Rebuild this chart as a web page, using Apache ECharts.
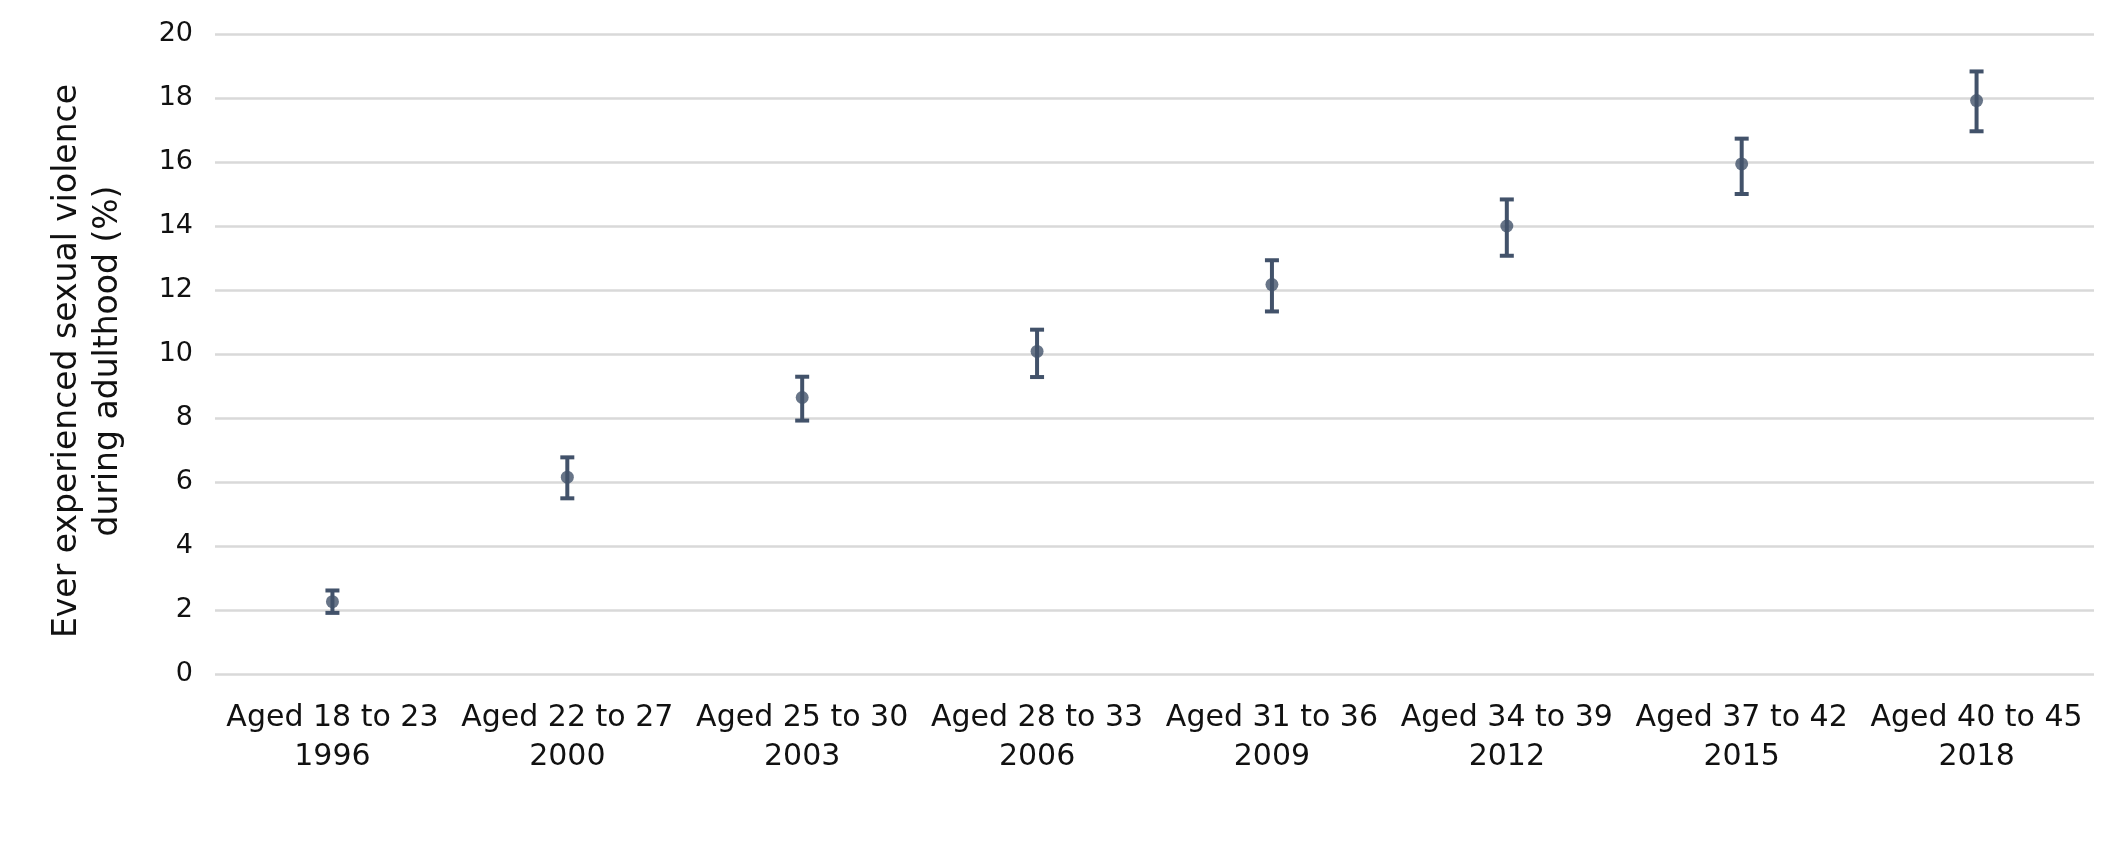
<!DOCTYPE html>
<html>
<head>
<meta charset="utf-8">
<script src="https://cdn.jsdelivr.net/npm/echarts@6/dist/echarts.min.js"></script>
<style>
    html, body { margin: 0; padding: 0; background: #fff; }
    #chart { width: 2126px; height: 849px; }
</style>
</head>
<body>
<div id="chart"></div>
<script>
// survey waves (age band + year)
var categories = [
    'Aged 18 to 23\n1996', 'Aged 22 to 27\n2000', 'Aged 25 to 30\n2003', 'Aged 28 to 33\n2006',
    'Aged 31 to 36\n2009', 'Aged 34 to 39\n2012', 'Aged 37 to 42\n2015', 'Aged 40 to 45\n2018'
];
var estimate = [2.26, 6.15, 8.64, 10.08, 12.17, 14.0, 15.94, 17.92];
var lower    = [1.91, 5.49, 7.92, 9.28, 11.33, 13.07, 15.0, 16.96];
var upper    = [2.61, 6.77, 9.29, 10.76, 12.93, 14.83, 16.73, 18.83];
var yTicks   = [0, 2, 4, 6, 8, 10, 12, 14, 16, 18, 20];

var markColor = '#42526a';
var fontName = 'DejaVu Sans';

var errorData = categories.map(function (c, i) {
    return [i, lower[i], upper[i]];
});

function renderErrorBar(params, api) {
    var lo = api.coord([api.value(0), api.value(1)]);
    var hi = api.coord([api.value(0), api.value(2)]);
    var half = 7;
    var style = { stroke: markColor, lineWidth: 4, fill: null };
    return {
        type: 'group',
        children: [
            { type: 'line', shape: { x1: hi[0], y1: hi[1], x2: lo[0], y2: lo[1] }, style: style },
            { type: 'line', shape: { x1: hi[0] - half, y1: hi[1], x2: hi[0] + half, y2: hi[1] }, style: style },
            { type: 'line', shape: { x1: lo[0] - half, y1: lo[1], x2: lo[0] + half, y2: lo[1] }, style: style }
        ]
    };
}

var chart = echarts.init(document.getElementById('chart'));
var option = {
    animation: false,
    backgroundColor: '#fff',
    grid: { left: 215, right: 32, top: 34, bottom: 175, containLabel: false },
    xAxis: {
        type: 'category',
        data: categories,
        boundaryGap: true,
        axisLine: { show: false },
        axisTick: { show: false },
        axisLabel: {
            interval: 0,
            margin: 25,
            color: '#111',
            fontFamily: fontName,
            fontSize: 30,
            lineHeight: 39
        }
    },
    yAxis: {
        type: 'value',
        min: yTicks[0],
        max: yTicks[yTicks.length - 1],
        interval: 2,
        name: 'Ever experienced sexual violence\nduring adulthood (%)',
        nameLocation: 'middle',
        nameGap: 86,
        nameTextStyle: {
            color: '#111',
            fontFamily: fontName,
            fontSize: 33,
            lineHeight: 41,
            padding: [0, 14, 0, 0]
        },
        axisLine: { show: false },
        axisTick: { show: false },
        axisLabel: {
            margin: 22,
            color: '#111',
            fontFamily: fontName,
            fontSize: 27
        },
        splitLine: { lineStyle: { color: '#d9d9d9', width: 2.5 } }
    },
    series: [
        {
            type: 'custom',
            renderItem: renderErrorBar,
            data: errorData,
            encode: { x: 0, y: [1, 2] },
            z: 2
        },
        {
            type: 'scatter',
            data: estimate,
            symbol: 'circle',
            symbolSize: 13,
            itemStyle: { color: markColor },
            z: 3
        }
    ]
};
chart.setOption(option);
</script>
</body>
</html>
